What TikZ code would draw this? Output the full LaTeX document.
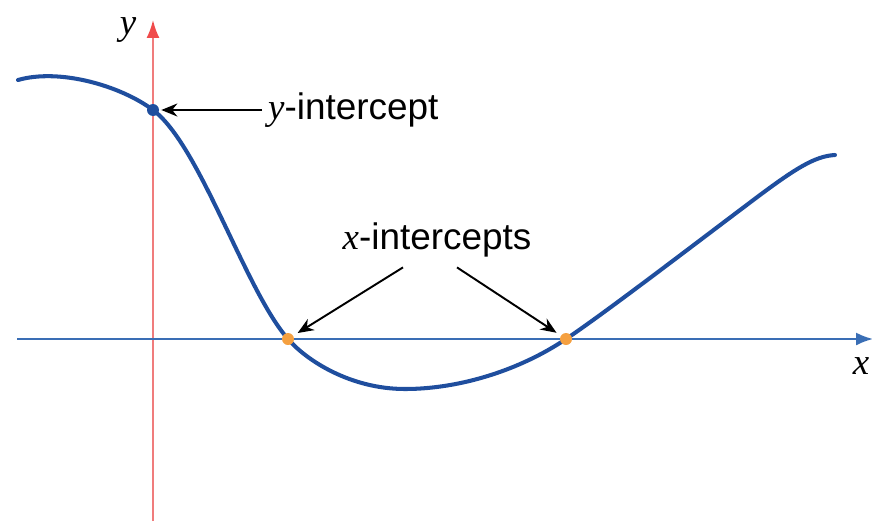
\documentclass[tikz,border=0pt]{standalone}
\usepackage{fontspec}
\setmainfont{Liberation Sans}
\newfontfamily\varfont{Liberation Serif}
\usetikzlibrary{arrows.meta,positioning}
\definecolor{Curve}{HTML}{1F4E9E}
\definecolor{AxisX}{HTML}{3A6EB5}
\definecolor{AxisY}{HTML}{F07C7C}
\definecolor{TipY}{HTML}{F04B4B}
\definecolor{Root}{HTML}{F5A040}
\newcommand\vname[1]{{\varfont\itshape #1}}

\begin{document}
\begin{tikzpicture}[x=0.02cm,y=-0.02cm,font=\fontsize{21}{25}\selectfont,>={Stealth[length=0.32cm,width=0.26cm]},
  pointer/.style={->,black,line width=1.1pt},
  dot/.style={circle,inner sep=0pt,minimum size=0.24cm}]
  \useasboundingbox (0,0) rectangle (872,521);
  % axes
  \draw[AxisY,line width=1.1pt,-{Latex[length=0.36cm,width=0.26cm,color=TipY]}] (153,521) -- (153,20);
  \draw[AxisX,line width=1.1pt,-{Latex[length=0.34cm,width=0.26cm]}] (17,339) -- (873,339);
  \node (ax) at (128,30) {\vname{y}};
  \node (ay) at (861,366) {\vname{x}};
  % the function
  \draw[Curve,line width=2.3pt,line cap=round] (18,80) .. controls (60,68) and (121,86) .. (153,110)
    .. controls (200,145) and (245,290) .. (288,339)
    .. controls (306,360) and (350,389) .. (405,389) .. controls (460,389) and (520,370) .. (566,339)
    .. controls (605,313) and (700,240) .. (760,195) .. controls (795,169) and (815,156) .. (835,155);
  \node[dot,fill=Curve] (yint) at (153,110) {};
  \node[dot,fill=Root] (xint1) at (288,339) {};
  \node[dot,fill=Root] (xint2) at (566,339) {};
  % labels
  \node[anchor=west] (ylab) at (262,110) {\vname{y}-intercept};
  \node (xlab) at (437,240) {\vname{x}-intercepts};
  \draw[pointer,shorten >=0.04cm] (ylab.west) -- (yint);
  \draw[pointer,shorten >=0.1cm] (xlab.south) ++(-34,4) -- (xint1);
  \draw[pointer,shorten >=0.1cm] (xlab.south) ++(20,4) -- (xint2);
\end{tikzpicture}
\end{document}
